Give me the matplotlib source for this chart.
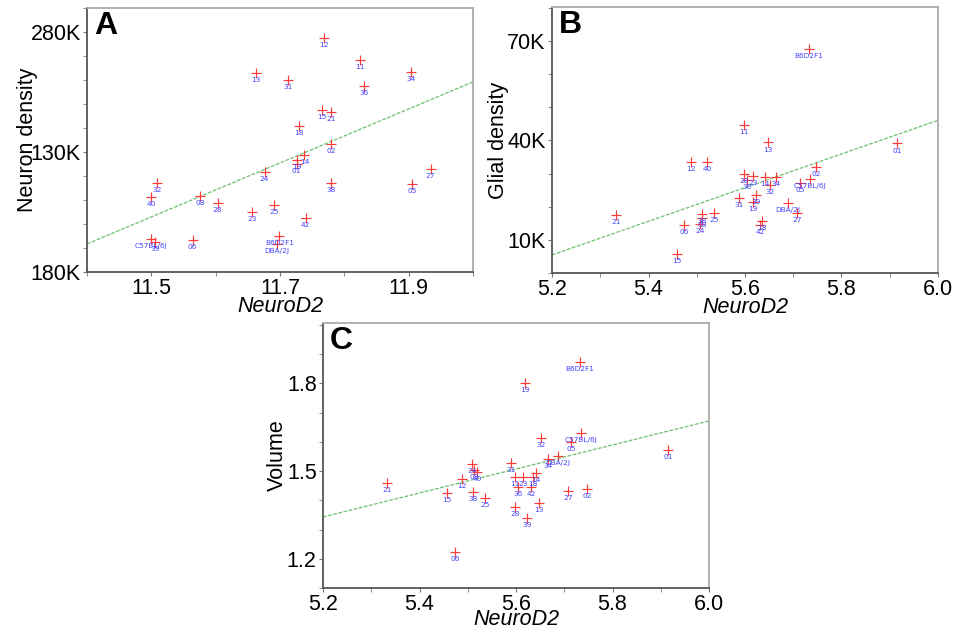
import numpy as np
import matplotlib
matplotlib.use("Agg")
import matplotlib.pyplot as plt
from matplotlib.ticker import MultipleLocator

plt.rcParams['font.family'] = ['Liberation Sans', 'DejaVu Sans']

# Panel A: neuron density vs NeuroD2
labels_a = ['13', '12', '11', '34', '31', '36', '15', '21', '18', '02', '14', '19', '01',
            '27', '05', '38', '25', '42', 'B6D2F1', 'DBA/2J', '24', '32', '40', '08',
            '28', '23', 'C57BL/6J', '39', '06']
x_a = [11.662, 11.768, 11.824, 11.903, 11.712, 11.830, 11.765, 11.779, 11.729, 11.779,
       11.738, 11.726, 11.726, 11.934, 11.905, 11.780, 11.691, 11.740, 11.699, 11.695,
       11.676, 11.509, 11.500, 11.576, 11.603, 11.657, 11.500, 11.506, 11.564]
y_a = [262.9, 277.5, 268.3, 263.3, 260.0, 257.5, 247.5, 246.7, 240.8, 233.3,
       228.8, 226.7, 225.0, 222.9, 216.7, 217.1, 207.9, 202.5, 195.0, 191.7,
       221.7, 217.1, 211.3, 211.7, 208.8, 205.0, 193.8, 192.5, 193.3]
fit_a = (191.7, 112.5)  # value at left edge, slope

# Panel B: glial density vs NeuroD2
labels_b = ['B6D2F1', '11', '13', '01', '12', '40', '02', '28', '23', '14', '34', '36',
            'C57BL/6J', '05', '32', '39', '31', '19', 'DBA/2J', '27', '21', '38', '25',
            '08', '18', '24', '06', '42', '15']
x_b = [5.733, 5.598, 5.648, 5.915, 5.488, 5.521, 5.747, 5.598, 5.617, 5.641, 5.664, 5.604,
       5.735, 5.714, 5.652, 5.623, 5.588, 5.617, 5.689, 5.708, 5.333, 5.511, 5.536,
       5.511, 5.635, 5.507, 5.474, 5.631, 5.459]
y_b = [67.6, 44.8, 39.4, 39.1, 33.6, 33.6, 32.1, 30.0, 29.4, 29.1, 29.1, 28.2,
       28.5, 27.3, 26.7, 23.6, 22.7, 21.5, 21.2, 18.2, 17.6, 17.9, 18.2,
       16.7, 15.8, 14.8, 14.5, 14.5, 5.8]
fit_b = (5.45, 50.8)

# Panel C: volume vs NeuroD2
labels_c = ['B6D2F1', '19', 'C57BL/6J', '05', '32', 'DBA/2J', '34', '01', '27', '02',
            '31', '13', '21', '15', '38', '25', '12', '24', '08', '40', '11', '23',
            '18', '14', '36', '42', '28', '39', '06']
x_c = [5.733, 5.619, 5.735, 5.714, 5.652, 5.687, 5.666, 5.915, 5.708, 5.747,
       5.590, 5.648, 5.333, 5.457, 5.511, 5.536, 5.488, 5.509, 5.513, 5.519, 5.598,
       5.615, 5.635, 5.641, 5.604, 5.631, 5.598, 5.623, 5.474]
y_c = [1.874, 1.802, 1.631, 1.600, 1.614, 1.552, 1.542, 1.573, 1.432, 1.439,
       1.528, 1.391, 1.460, 1.425, 1.429, 1.408, 1.473, 1.525, 1.504, 1.497, 1.480,
       1.480, 1.480, 1.494, 1.446, 1.446, 1.377, 1.340, 1.223]
fit_c = (1.343, 0.411)

fig = plt.figure(figsize=(9.58, 6.32), dpi=100)
W, H = 958, 632


def make_axes(left, top, right, bottom):
    return fig.add_axes([left / W, 1 - bottom / H, (right - left) / W, (bottom - top) / H])


def panel(ax, xs, ys, labs, fit, xlim, ylim, letter, ylabel, lab_x, lab_y):
    ax.set_xlim(*xlim)
    ax.set_ylim(*ylim)
    xx = np.array(xlim)
    ax.plot(xx, fit[0] + fit[1] * (xx - xlim[0]), color='#6cc06c', lw=0.9,
            dashes=(3, 1.2), zorder=1)
    ax.plot(xs, ys, '+', color='#ff3a3a', ms=6.5, mew=0.85, zorder=2)
    for x, y, t in zip(xs, ys, labs):
        ax.annotate(t, (x, y), xytext=(0, -3), textcoords='offset points',
                    ha='center', va='top', fontsize=5.3, color='#4444ff', zorder=3,
                    family='DejaVu Sans')
    ax.text(0.018, 0.99, letter, transform=ax.transAxes, ha='left', va='top',
            fontsize=23, fontweight='bold')
    ax.set_ylabel(ylabel, fontsize=15.5)
    ax.set_xlabel('NeuroD2', fontsize=15.5, style='italic')
    ax.yaxis.set_label_coords(lab_x, 0.5)
    ax.xaxis.set_label_coords(0.5, lab_y)
    ax.tick_params(which='both', direction='out', labelsize=15.5, color='#777', pad=1.5)
    ax.tick_params(which='major', length=3)
    ax.tick_params(which='minor', length=3)
    for s in ['left', 'bottom']:
        ax.spines[s].set_color('#555')
        ax.spines[s].set_linewidth(1.3)
    for s in ['top', 'right']:
        ax.spines[s].set_color('#aaa')
        ax.spines[s].set_linewidth(1.3)


axA = make_axes(87, 8, 473, 272)
panel(axA, x_a, y_a, labels_a, fit_a, (11.4, 12.0), (180, 290), 'A', 'Neuron density', -0.127, -0.092)
axA.set_xticks([11.5, 11.7, 11.9])
axA.set_xticklabels(['11.5', '11.7', '11.9'])
axA.xaxis.set_minor_locator(MultipleLocator(0.1))
axA.set_yticks([180, 230, 280])
axA.set_yticklabels(['180K', '130K', '280K'])
axA.yaxis.set_minor_locator(MultipleLocator(10))

axB = make_axes(552, 7, 938, 273)
panel(axB, x_b, y_b, labels_b, fit_b, (5.2, 6.0), (0, 80.3), 'B', 'Glial density', -0.111, -0.092)
axB.set_xticks([5.2, 5.4, 5.6, 5.8, 6.0])
axB.xaxis.set_minor_locator(MultipleLocator(0.1))
axB.set_yticks([10, 40, 70])
axB.set_yticklabels(['10K', '40K', '70K'])
axB.yaxis.set_minor_locator(MultipleLocator(10))

axC = make_axes(323, 323, 709, 588)
panel(axC, x_c, y_c, labels_c, fit_c, (5.2, 6.0), (1.1, 2.007), 'C', 'Volume', -0.09, -0.08)
axC.set_xticks([5.2, 5.4, 5.6, 5.8, 6.0])
axC.xaxis.set_minor_locator(MultipleLocator(0.1))
axC.set_yticks([1.2, 1.5, 1.8])
axC.yaxis.set_minor_locator(MultipleLocator(0.1))

fig.savefig('out.png', dpi=100)
